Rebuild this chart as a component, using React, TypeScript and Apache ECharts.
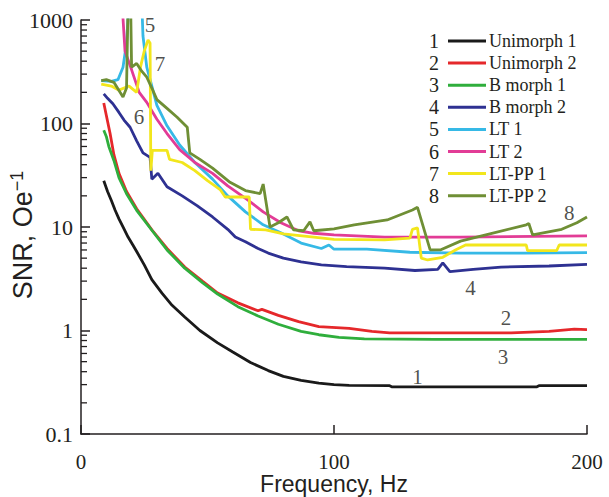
import React, { useEffect, useRef } from "react";
import * as echarts from "echarts";

// Frequency (Hz) / SNR (Oe^-1) pairs
const unimorph1 = [[9,28],[10.5,22],[12,18],[13.5,14.5],[15,12],[16.8,9.8],[18.6,8],[20.5,6.7],[22,5.8],[25,4.3],[28,3.1],[32,2.3],[36,1.75],[41,1.35],[47,1.0],[54,0.76],[60,0.62],[67,0.49],[74,0.41],[80,0.36],[87,0.33],[94,0.31],[100,0.3],[106,0.295],[122,0.293],[123,0.285],[180,0.285],[181,0.293],[200,0.293]];
const unimorph2 = [[9,158],[10,120],[11.5,80],[13,50],[15,33],[18,22],[22,15],[28,9.4],[34,6.2],[41,4.1],[48,3.0],[54,2.3],[62,1.85],[70,1.55],[71.5,1.6],[78,1.4],[86,1.22],[94,1.09],[106,1.05],[115,0.98],[122,0.95],[170,0.95],[185,0.98],[195,1.03],[200,1.02]];
const bmorph1 = [[9,86],[10,75],[11,60],[13,44],[15,30],[18,21],[22,14.5],[28,9.3],[34,6.0],[41,4.0],[48,2.9],[54,2.25],[62,1.7],[70,1.38],[78,1.15],[87,0.98],[94,0.91],[102,0.86],[112,0.83],[140,0.82],[200,0.82]];
const bmorph2 = [[9,193],[10.5,175],[12.6,155],[15,128],[17,108],[19.4,92],[22,68],[24.5,52],[27.3,47],[28,29],[30.4,33],[34,24.5],[40,20],[46,16],[52,12.5],[58,9.5],[61,8],[65,7.2],[70,6.2],[74,5.6],[80,5.0],[87,4.6],[95,4.3],[105,4.15],[120,4.0],[132,3.8],[141,3.9],[143,4.5],[145.8,3.7],[155,3.9],[166,4.1],[185,4.2],[200,4.35]];
const lt1 = [[8,260],[12,255],[14.6,265],[16.6,350],[18,600],[19,1500],[24,1500],[24.5,700],[26,350],[28,230],[30,150],[34,95],[39,62],[45,42],[52,29],[58,20],[65,14],[72,10.5],[79,8.8],[87,7.0],[95,6.2],[98,6.7],[100,6.1],[113,6.1],[130,5.7],[150,5.6],[175,5.6],[200,5.65]];
const lt2 = [[16.2,1500],[17.4,500],[20,330],[23,200],[26,160],[30,110],[34,80],[39,56],[45,42],[52,33],[58,25],[65.6,18.5],[72,14],[79,11],[86,9.2],[92,8.7],[100,8.4],[120,8.0],[150,8.0],[200,8.2]];
const ltpp1 = [[8,240],[12,230],[15,210],[19,230],[22,200],[23.5,350],[25,500],[26.5,640],[27.3,600],[27.6,35],[28.2,55],[34,55],[35,45],[40,42],[45,35],[50,28],[55,23],[57,19.5],[66.5,19.5],[67,9.5],[73,9.4],[80,8.6],[92,8.0],[100,7.6],[120,7.5],[130,7.8],[131,9.5],[133,9.8],[134.5,5.0],[137,4.8],[143,5.1],[148,6.0],[152,6.7],[176,6.7],[176.5,5.9],[188,5.9],[189,6.7],[200,6.7]];
const ltpp2 = [[8,260],[10,265],[13,250],[16.6,180],[18,220],[18.6,1500],[19.6,1500],[20,350],[22,380],[24,320],[26,280],[28,220],[30,170],[34,140],[38,115],[42,92],[43,52],[47,45],[52,37],[58.9,27],[65,22.5],[70.8,21],[72,26],[74.7,10],[78,11],[81.4,12.5],[84,9.4],[88,9.2],[90.5,11.2],[92,9.2],[100,9.6],[108,10.5],[121,11.7],[131,14.6],[133,15.5],[138,6.0],[142,6.0],[150,7.3],[160,8.4],[176,10.5],[177,10.8],[178.5,8.4],[190,9.5],[196,11],[200,12.5]];

const seriesNames = ["Unimorph 1","Unimorph 2","B morph 1","B morph 2","LT 1","LT 2","LT-PP 1","LT-PP 2"];
const seriesNumbers = ["1","2","3","4","5","6","7","8"];
const seriesColors = ["#1a1a1a","#e5282b","#2fae3c","#2e3192","#36b9e6","#e23c96","#f2e61c","#6f8f35"];
const seriesData = [unimorph1, unimorph2, bmorph1, bmorph2, lt1, lt2, ltpp1, ltpp2];

// Curve number annotations [freq, snr, text]
const curveLabels: [number, number, string][] = [[27.3,895,"5"],[31.2,376,"7"],[22.9,116,"6"],[154,2.58,"4"],[168,1.32,"2"],[166.8,0.555,"3"],[133,0.355,"1"],[193,13.6,"8"]];

const xTicks = { min: 0, max: 200, interval: 100 };
const yRange = { min: 0.1, max: 1000 };
const minorTickValues = [0.2,0.3,0.4,0.5,0.6,0.7,0.8,0.9,2,3,4,5,6,7,8,9,20,30,40,50,60,70,80,90,200,300,400,500,600,700,800,900];

const SERIF = "'Liberation Serif', 'Times New Roman', serif";
const SANS = "'Liberation Sans', Arial, sans-serif";
const INK = "#231f20";

export default function App() {
  const ref = useRef<HTMLDivElement>(null);
  useEffect(() => {
    if (!ref.current) return;
    const chart = echarts.init(ref.current, undefined, { renderer: "svg" });

    const legendTop = 41;
    const legendStep = 22.1;
    const legendElems: any[] = [];
    seriesNames.forEach((name, i) => {
      const y = legendTop + legendStep * i;
      legendElems.push({ type: "text", x: 434, y, style: { text: seriesNumbers[i], fontFamily: SERIF, fontSize: 20, fontWeight: "normal", fill: INK, align: "center", verticalAlign: "middle" } });
      legendElems.push({ type: "line", shape: { x1: 448, y1: y, x2: 486, y2: y }, style: { stroke: seriesColors[i], lineWidth: 3 } });
      legendElems.push({ type: "text", x: 489, y, style: { text: name, fontFamily: SERIF, fontSize: 18, fontWeight: "normal", fill: INK, align: "left", verticalAlign: "middle" } });
    });

    const lineSeries = seriesData.map((d, i) => ({
      type: "line",
      name: seriesNames[i],
      data: d,
      showSymbol: false,
      symbol: "none",
      clip: true,
      lineStyle: { color: seriesColors[i], width: 2.8 },
      itemStyle: { color: seriesColors[i] },
      z: 2 + i,
    }));

    chart.setOption({
      animation: false,
      grid: { left: 81, right: 22, top: 20, bottom: 63, containLabel: false, outerBoundsMode: "none" },
      xAxis: {
        type: "value",
        min: xTicks.min,
        max: xTicks.max,
        interval: xTicks.interval,
        name: "Frequency, Hz",
        nameLocation: "middle",
        nameGap: 39,
        nameMoveOverlap: false,
        nameTextStyle: { fontFamily: SANS, fontSize: 23, color: INK, lineHeight: 22 },
        axisLine: { lineStyle: { color: INK, width: 1.5 } },
        axisTick: { inside: true, length: 9, lineStyle: { color: INK, width: 1.5 } },
        axisLabel: { fontFamily: SERIF, fontSize: 21, color: INK, margin: 19, lineHeight: 18 },
        splitLine: { show: false },
      },
      yAxis: {
        type: "log",
        logBase: 10,
        min: yRange.min,
        max: yRange.max,
        name: "{a|SNR, Oe}{b|−1}",
        nameLocation: "middle",
        nameGap: 43,
        nameMoveOverlap: false,
        nameTextStyle: {
          padding: [0, 16, 0, 0],
          rich: {
            a: { fontFamily: SANS, fontSize: 27, color: INK, lineHeight: 30 },
            b: { fontFamily: SANS, fontSize: 18, color: INK, lineHeight: 18, verticalAlign: "top" },
          },
        },
        axisLine: { show: true, lineStyle: { color: INK, width: 1.5 } },
        axisTick: { inside: true, length: 9, lineStyle: { color: INK, width: 1.5 } },
        axisLabel: { fontFamily: SERIF, fontSize: 22, color: INK, margin: 8, formatter: (v: number) => String(v) },
        splitLine: { show: false },
      },
      series: [
        ...lineSeries,
        {
          type: "custom",
          name: "minorTicks",
          silent: true,
          clip: false,
          data: minorTickValues.map((v) => [0, v]),
          renderItem: (params: any, api: any) => {
            const p = api.coord([0, api.value(1)]);
            return {
              type: "line",
              shape: { x1: p[0], y1: p[1], x2: p[0] + 6, y2: p[1] },
              style: { stroke: INK, lineWidth: 1.3 },
            };
          },
          z: 1,
        },
        {
          type: "scatter",
          name: "curveLabels",
          silent: true,
          symbolSize: 0,
          data: curveLabels.map((c) => ({ value: [c[0], c[1]], name: c[2] })),
          label: {
            show: true,
            position: "inside",
            formatter: (p: any) => p.name,
            fontFamily: SERIF,
            fontSize: 21,
            color: INK,
          },
          z: 20,
        },
      ],
      graphic: [{ type: "group", children: legendElems }],
    });
    return () => chart.dispose();
  }, []);
  return <div ref={ref} style={{ position: "fixed", left: 0, top: 0, width: 609, height: 497, background: "#fff" }} />;
}
